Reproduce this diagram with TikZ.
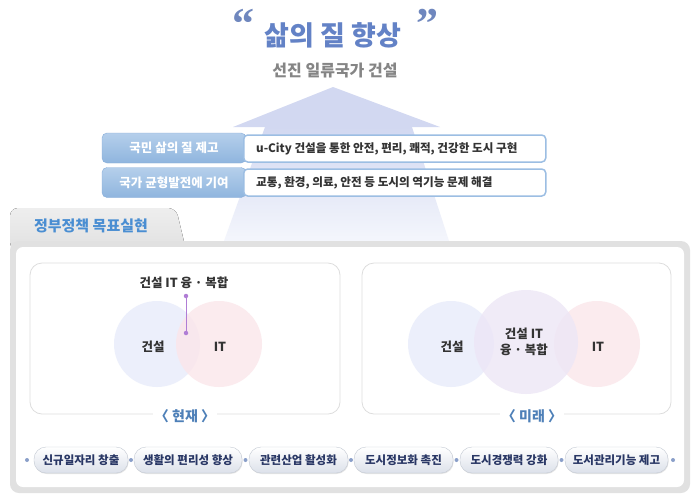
\documentclass[tikz,border=0pt]{standalone}
\usepackage{fontspec}
\setmainfont{Noto Sans CJK KR}
\newfontfamily\quotefont{Liberation Serif}
\usetikzlibrary{shadows}
\definecolor{arrowhead}{HTML}{D2D8F1}
\definecolor{arrowlow}{HTML}{F4F6FC}
\definecolor{lblblue}{HTML}{8FB5DE}
\definecolor{lblbluetop}{HTML}{B5CFEB}
\definecolor{lblline}{HTML}{88AEDA}
\definecolor{boxborder}{HTML}{9CBEE3}
\definecolor{tabtop}{HTML}{EEEEEE}
\definecolor{tabgray}{HTML}{E1E1E1}
\definecolor{tabtext}{HTML}{4A8ED2}
\definecolor{panelline}{HTML}{DDDDDD}
\definecolor{captionblue}{HTML}{4E80B8}
\definecolor{vblue}{HTML}{E8ECFA}
\definecolor{vred}{HTML}{FBE6EA}
\definecolor{vpurple}{HTML}{EDE6F6}
\definecolor{linkpurple}{HTML}{B07DD5}
\definecolor{pilltext}{HTML}{293765}
\definecolor{pillborder}{HTML}{C3C9D3}
\definecolor{pillbottom}{HTML}{DCE1EA}
\definecolor{dotblue}{HTML}{8A9FC9}
\definecolor{titleblue}{HTML}{6382C6}
\definecolor{quotecol}{HTML}{6F87BE}
\definecolor{subgray}{HTML}{858585}
\definecolor{darktext}{HTML}{333333}
\tikzset{
  rowlabel/.style={rounded corners=5pt, draw=lblline, top color=lblbluetop, bottom color=lblblue,
    text=white, font=\bfseries\fontsize{12.5}{14}\selectfont, minimum width=144pt, minimum height=30pt, inner sep=0pt},
  rowbox/.style={rounded corners=4pt, draw=boxborder, line width=1.5pt, fill=white, anchor=west,
    minimum width=302pt, minimum height=27pt, inner sep=0pt},
  rowtext/.style={anchor=west, text=darktext, font=\bfseries\fontsize{11.6}{14}\selectfont, inner sep=0pt},
  subpanel/.style={draw=panelline, line width=0.8pt, rounded corners=12pt},
  caption/.style={fill=white, text=captionblue, font=\bfseries\fontsize{14}{16}\selectfont, inner xsep=2pt, inner ysep=1pt},
  vcircle/.style={circle, inner sep=0pt, minimum size=#1, fill opacity=0.8},
  vlabel/.style={text=darktext, font=\bfseries\fontsize{12.5}{15}\selectfont, align=center},
  linkdot/.style={circle, fill=linkpurple, inner sep=0pt, minimum size=4.5pt},
  pill/.style={rounded corners=12pt, draw=pillborder, top color=white, bottom color=pillbottom,
    text=pilltext, font=\bfseries\fontsize{11.5}{13}\selectfont, minimum height=26pt, inner sep=0pt,
    drop shadow={opacity=0.2, shadow xshift=0.6pt, shadow yshift=-1pt}},
  pilldot/.style={circle, fill=dotblue, inner sep=0pt, minimum size=4pt}
}
\begin{document}
\begin{tikzpicture}[x=1pt,y=-1pt]
\useasboundingbox (0,0) rectangle (700,499);
\fill[white] (0,0) rectangle (700,499);
% big arrow
\fill[arrowhead] (333,87) -- (440,127) -- (233,127) -- cycle;
\shade[top color=arrowhead, bottom color=arrowlow] (265,127) -- (412,127) -- (449,241) -- (224,241) -- cycle;
% title
\node[anchor=north, text=quotecol, font=\quotefont\bfseries\fontsize{44}{44}\selectfont, inner sep=0pt] (q1) at (243,9) {“};
\node[anchor=north, text=quotecol, font=\quotefont\bfseries\fontsize{44}{44}\selectfont, inner sep=0pt] (q2) at (427,9) {”};
\node[text=titleblue, font=\bfseries\fontsize{27}{30}\selectfont, inner sep=0pt] (title) at (333,35) {삶의 질 향상};
\node[text=subgray, font=\bfseries\fontsize{16}{18}\selectfont, inner sep=0pt] (sub) at (335,70) {선진 일류국가 건설};
% rows
\node[rowlabel] (l1) at (174,148) {국민 삶의 질 제고};
\node[rowbox] (b1) at (243,148.5) {};
\node[rowtext] (r1) at (256,148.5) {u-City 건설을 통한 안전, 편리, 쾌적, 건강한 도시 구현};
\node[rowlabel] (l2) at (174,182.5) {국가 균형발전에 기여};
\node[rowbox] (b2) at (243,182.5) {};
\node[rowtext] (r2) at (256,182.5) {교통, 환경, 의료, 안전 등 도시의 역기능 문제 해결};
% tab and panel
\fill[top color=tabtop, bottom color=tabgray, rounded corners=8pt] (10,250) -- (10,208) -- (176,208) -- (186,250) -- cycle;
\fill[tabgray, rounded corners=9pt] (10,241) rectangle (690,493);
\fill[white, rounded corners=7pt] (16,247) rectangle (684,487);
\node[text=tabtext, font=\bfseries\fontsize{15}{17}\selectfont, inner sep=0pt] (tab) at (91,226) {정부정책 목표실현};
% left subpanel
\draw[subpanel] (30,263) rectangle (340,414);
\node[caption] (now) at (185,416) {〈 현재 〉};
\node[vcircle=86pt, fill=vblue] (cb1) at (157,344) {};
\node[vcircle=86pt, fill=vred] (cr1) at (219,344) {};
\node[vlabel] (t1) at (153,347) {건설};
\node[vlabel] (t2) at (220,347) {IT};
\node[vlabel] (t3) at (184,283) {건설 IT 융 · 복합};
\node[linkdot] (d1) at (186,296) {};
\node[linkdot] (d2) at (186,333) {};
\draw[linkpurple, line width=1pt] (d1) -- (d2);
% right subpanel
\draw[subpanel] (362,263) rectangle (671,414);
\node[caption] (fut) at (532,416) {〈 미래 〉};
\node[vcircle=86pt, fill=vblue] (cb2) at (451,344) {};
\node[vcircle=86pt, fill=vred] (cr2) at (597,344) {};
\node[vcircle=104pt, fill=vpurple] (cp2) at (526,342) {};
\node[vlabel] (t4) at (452,347) {건설};
\node[vlabel] (t5) at (598,347) {IT};
\node[vlabel, font=\bfseries\fontsize{12.5}{16}\selectfont] (t6) at (524,342) {건설 IT\\융 · 복합};
% pills
\node[pilldot] (p0) at (27,460) {};
\node[pill, minimum width=94pt] (s1) at (81,460) {신규일자리 창출};
\node[pilldot] (p1) at (131,460) {};
\node[pill, minimum width=108pt] (s2) at (188,460) {생활의 편리성 향상};
\node[pilldot] (p2) at (245.5,460) {};
\node[pill, minimum width=99pt] (s3) at (298.5,460) {관련산업 활성화};
\node[pilldot] (p3) at (351,460) {};
\node[pill, minimum width=99pt] (s4) at (403.5,460) {도시정보화 촉진};
\node[pilldot] (p4) at (456.5,460) {};
\node[pill, minimum width=98pt] (s5) at (509,460) {도시경쟁력 강화};
\node[pilldot] (p5) at (561.5,460) {};
\node[pill, minimum width=103pt] (s6) at (616.5,460) {도서관리기능 제고};
\node[pilldot] (p6) at (673,460) {};
\end{tikzpicture}
\end{document}
